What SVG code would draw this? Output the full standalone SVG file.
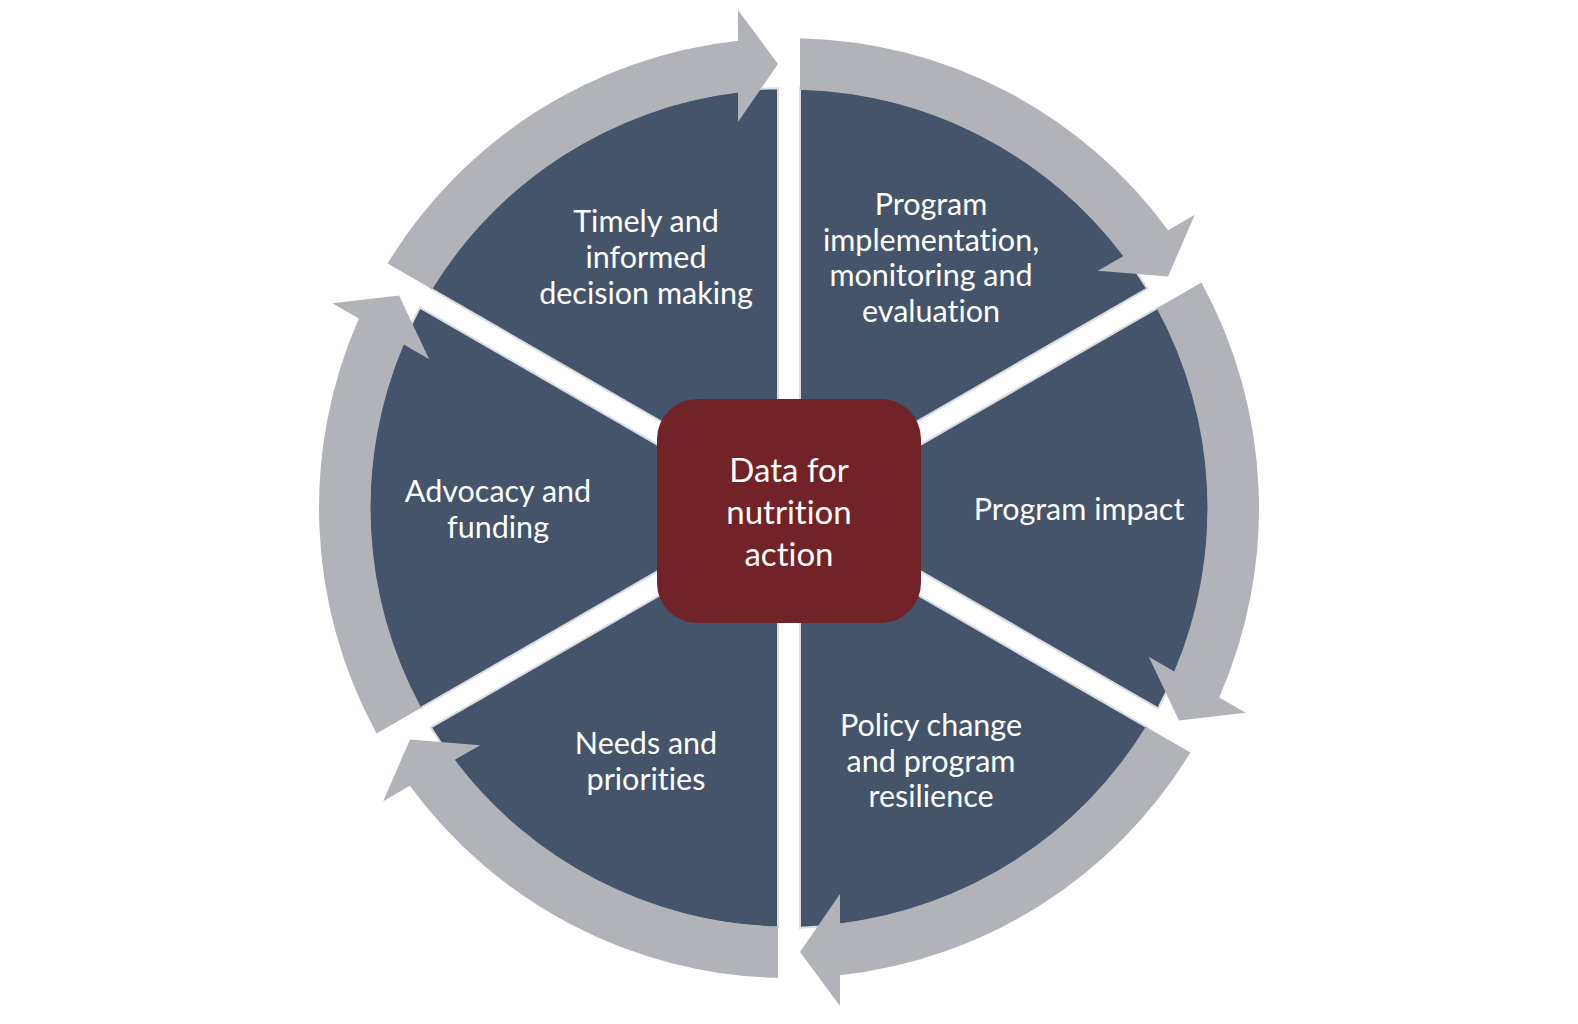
<svg xmlns="http://www.w3.org/2000/svg" xmlns:xlink="http://www.w3.org/1999/xlink" width="1578" height="1024" viewBox="0 0 1578 1024">
<style>
.sector{fill:#44546a;stroke:#d9dbde;stroke-width:2}
.ring{fill:#b1b3b9}
.lbl{font-family:Lato,"Open Sans","Liberation Sans",sans-serif;font-size:30.5px;fill:#ffffff;text-anchor:middle;font-variant-ligatures:none;font-feature-settings:"liga" 0}
.ctr{font-family:Lato,"Open Sans","Liberation Sans",sans-serif;font-size:33px;fill:#ffffff;text-anchor:middle;font-variant-ligatures:none;font-feature-settings:"liga" 0}
</style>
<defs>
<path id="arr" class="ring" d="M -401.41 -244.47 A 470 470 0 0 1 -51 -467.23 L -51 -498 L -11 -444 L -51 -386 L -51 -415.38 A 418.5 418.5 0 0 0 -356.81 -218.70 Z"/>
</defs>
<rect width="1578" height="1024" fill="#ffffff"/>
<g id="sectors">
<g id="node-timely">
<path class="sector" d="M 778 488.95 L 430.89 288.54 A 420 420 0 0 1 778 88.14 Z"/>
<text class="lbl" x="646" y="232">Timely and</text>
<text class="lbl" x="646" y="268">informed</text>
<text class="lbl" x="646" y="304">decision making</text>
</g>
<g id="node-implementation">
<path class="sector" d="M 800 488.95 L 800 88.14 A 420 420 0 0 1 1147.11 288.54 Z"/>
<text class="lbl" x="931" y="215">Program</text>
<text class="lbl" x="931" y="251">implementation,</text>
<text class="lbl" x="931" y="286">monitoring and</text>
<text class="lbl" x="931" y="322">evaluation</text>
</g>
<g id="node-impact">
<path class="sector" d="M 811 508 L 1158.11 307.60 A 420 420 0 0 1 1158.11 708.40 Z"/>
<text class="lbl" x="1079" y="520">Program impact</text>
</g>
<g id="node-policy">
<path class="sector" d="M 800 527.05 L 1147.11 727.46 A 420 420 0 0 1 800 927.86 Z"/>
<text class="lbl" x="931" y="736">Policy change</text>
<text class="lbl" x="931" y="772">and program</text>
<text class="lbl" x="931" y="807">resilience</text>
</g>
<g id="node-needs">
<path class="sector" d="M 778 527.05 L 778 927.86 A 420 420 0 0 1 430.89 727.46 Z"/>
<text class="lbl" x="646" y="754">Needs and</text>
<text class="lbl" x="646" y="790">priorities</text>
</g>
<g id="node-advocacy">
<path class="sector" d="M 767 508 L 419.89 708.40 A 420 420 0 0 1 419.89 307.60 Z"/>
<text class="lbl" x="498" y="502">Advocacy and</text>
<text class="lbl" x="498" y="538">funding</text>
</g>
</g>
<g id="connectors">
<use xlink:href="#arr" transform="translate(789,508) rotate(0)"/>
<use xlink:href="#arr" transform="translate(789,508) rotate(60)"/>
<use xlink:href="#arr" transform="translate(789,508) rotate(120)"/>
<use xlink:href="#arr" transform="translate(789,508) rotate(180)"/>
<use xlink:href="#arr" transform="translate(789,508) rotate(240)"/>
<use xlink:href="#arr" transform="translate(789,508) rotate(300)"/>
</g>
<g id="node-center">
<rect x="657" y="399" width="264" height="224" rx="40" ry="40" fill="#722327"/>
<text class="ctr" x="789" y="482">Data for</text>
<text class="ctr" x="789" y="524">nutrition</text>
<text class="ctr" x="789" y="566">action</text>
</g>
</svg>
